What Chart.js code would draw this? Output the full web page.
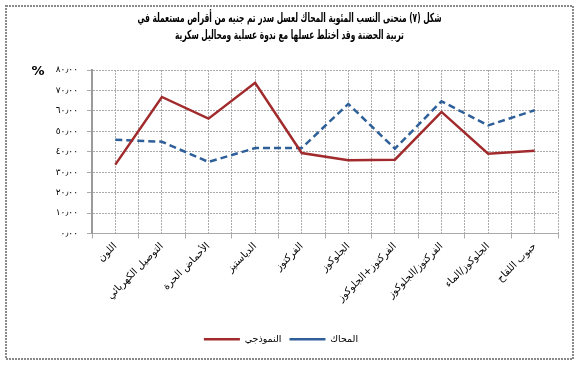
<!DOCTYPE html>
<html>
<head>
<meta charset="utf-8">
<script src="https://cdn.jsdelivr.net/npm/chart.js@4.4.1/dist/chart.umd.min.js"></script>
<style>
  html, body { margin: 0; padding: 0; background: #fff; }
</style>
</head>
<body>
<canvas id="chart" width="579" height="366"></canvas>
<script>
const titleLines = [
  "شكل (٧) منحنى النسب المئوية المحاك لعسل سدر تم جنيه من أقراص مستعملة في",
  "تربية الحضنة وقد اختلط عسلها مع ندوة عسلية ومحاليل سكرية"
];

const categories = [
  "اللون",
  "التوصيل الكهربائي",
  "الأحماض الحرة",
  "الدياستيز",
  "الفركتوز",
  "الجلوكوز",
  "الفركتوز+الجلوكوز",
  "الفركتوز/الجلوكوز",
  "الجلوكوز/الماء",
  "حبوب اللقاح"
];

// النموذجي (red, solid)
const standardValues = [33.7, 66.8, 56.2, 73.7, 39.4, 35.8, 36.1, 59.5, 39.0, 40.5];
// المحاك (blue, dashed)
const simulatedValues = [45.9, 44.9, 35.0, 41.8, 41.8, 63.4, 41.5, 64.7, 52.9, 60.3];

const yTickLabels = ["٠٫٠٠", "١٠٫٠٠", "٢٠٫٠٠", "٣٠٫٠٠", "٤٠٫٠٠", "٥٠٫٠٠", "٦٠٫٠٠", "٧٠٫٠٠", "٨٠٫٠٠"];

const FONT = '"DejaVu Sans", sans-serif';
const gridGrey = "#ababab";

// DejaVu's Arabic is much wider than the original font, so the title is
// drawn slightly condensed; also draws the "%" sign and the outer frame.
const decorations = {
  id: "decorations",
  afterDraw(c) {
    const ctx = c.ctx;
    ctx.save();

    // outer frame
    ctx.strokeStyle = "#8a8a8a";
    ctx.lineWidth = 2;
    ctx.setLineDash([2, 1]);
    ctx.strokeRect(6, 6, 567, 353);
    ctx.setLineDash([]);

    // title
    ctx.font = "bold 12.5px " + FONT;
    ctx.fillStyle = "#000";
    ctx.textAlign = "center";
    ctx.textBaseline = "middle";
    const sx = 304 / ctx.measureText(titleLines[0]).width;
    const cx = c.width / 2;
    titleLines.forEach((line, i) => {
      ctx.save();
      ctx.translate(cx, 19 + i * 17);
      ctx.scale(sx, 1);
      ctx.fillText(line, 0, 0);
      ctx.restore();
    });

    // "%" next to the top value tick
    ctx.font = "bold 13px " + FONT;
    ctx.fillText("%", 38, c.scales.y.getPixelForValue(80) + 2);
    ctx.restore();
  }
};

const ctx = document.getElementById("chart").getContext("2d");
new Chart(ctx, {
  type: "line",
  data: {
    labels: categories,
    datasets: [
      {
        label: "النموذجي",
        data: standardValues,
        borderColor: "#a12a2c",
        backgroundColor: "#a12a2c",
        borderWidth: 2.5,
        pointRadius: 0,
        tension: 0,
        fill: false
      },
      {
        label: "المحاك",
        data: simulatedValues,
        borderColor: "#2e5f99",
        backgroundColor: "#2e5f99",
        borderWidth: 2.5,
        borderDash: [7, 4],
        pointRadius: 0,
        tension: 0,
        fill: false
      }
    ]
  },
  options: {
    responsive: false,
    animation: false,
    layout: { padding: { left: 4, right: 21, top: 70, bottom: 12 } },
    scales: {
      x: {
        type: "category",
        offset: true,
        grid: { color: gridGrey, offset: true, tickLength: 5, lineWidth: 1 },
        border: { color: gridGrey, dash: [2, 1] },
        ticks: {
          color: "#000",
          font: { family: FONT, size: 10 },
          minRotation: 45,
          maxRotation: 45,
          padding: 2,
          autoSkip: false
        },
        afterFit(s) { s.height = 93; }
      },
      x2: {
        type: "category",
        labels: categories,
        position: "bottom",
        offset: true,
        grid: { color: gridGrey, offset: false, drawTicks: false, lineWidth: 1 },
        border: { display: false, dash: [2, 1] },
        ticks: { display: false },
        afterFit(s) { s.height = 0; }
      },
      y: {
        min: 0,
        max: 80,
        grid: { color: gridGrey, tickLength: 5, lineWidth: 1 },
        border: { color: "#9a9a9a", width: 2, dash: [2, 1] },
        ticks: {
          stepSize: 10,
          color: "#000",
          padding: 9,
          font: { family: FONT, size: 9 },
          callback: (v, i) => yTickLabels[i]
        },
        afterFit(s) { s.width = 88; }
      }
    },
    plugins: {
      title: { display: false },
      legend: {
        position: "bottom",
        labels: {
          color: "#000",
          font: { family: FONT, size: 9.5 },
          usePointStyle: true,
          pointStyle: "line",
          pointStyleWidth: 36,
          boxHeight: 8,
          padding: 8
        }
      },
      tooltip: { enabled: false }
    }
  },
  plugins: [decorations]
});
</script>
</body>
</html>
